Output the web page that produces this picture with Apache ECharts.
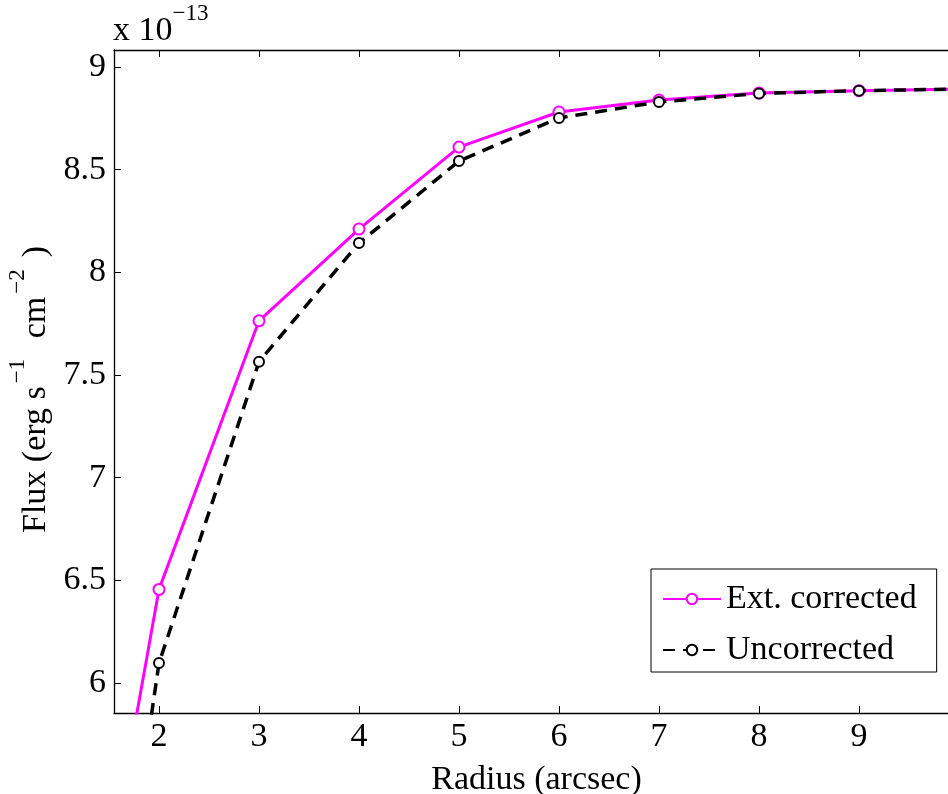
<!DOCTYPE html>
<html>
<head>
<meta charset="utf-8">
<title>Flux vs Radius</title>
<script src="https://cdn.jsdelivr.net/npm/echarts@6/dist/echarts.min.js"></script>
<style>
  html, body { margin: 0; padding: 0; background: #fff; overflow: hidden; }
  #chart { width: 948px; height: 794px; }
</style>
</head>
<body>
<div id="chart"></div>
<script>
// Aperture radius (arcsec) and integrated flux (units of 1e-13 erg s^-1 cm^-2)
const radius      = [1, 2, 3, 4, 5, 6, 7, 8, 9, 10];
const corrected   = [3.73, 6.456, 7.764, 8.211, 8.610, 8.781, 8.839, 8.873, 8.885, 8.893];
const uncorrected = [2.76, 6.097, 7.565, 8.143, 8.542, 8.752, 8.830, 8.871, 8.885, 8.893];

// Tick positions
const xTicks = [2, 3, 4, 5, 6, 7, 8, 9];
const yTicks = [6, 6.5, 7, 7.5, 8, 8.5, 9];

const seriesNames = ['Ext. corrected', 'Uncorrected'];

const FONT = "'Liberation Serif', 'Times New Roman', serif";
const FS = 34;      // main text size
const FS_SUP = 23;  // superscript size

const pairs = (xs, ys) => xs.map((x, i) => [x, ys[i]]);

const chart = echarts.init(document.getElementById('chart'), null, { renderer: 'canvas' });

const axisLineStyle = { color: '#000', width: 1.3 };
const tickStyle = { color: '#000', width: 1 };

chart.setOption({
  animation: false,
  backgroundColor: '#fff',
  textStyle: { fontFamily: FONT, color: '#000' },
  title: {
    text: 'x 10{sup|\u221213}',
    left: 113,
    top: 2,
    padding: 0,
    textStyle: {
      fontFamily: FONT, fontSize: FS, fontWeight: 'normal', color: '#000',
      rich: { sup: { fontFamily: FONT, fontSize: FS_SUP, color: '#000', padding: [0, 0, 35, 0] } }
    }
  },
  grid: { left: 114, top: 50, right: -11, bottom: 81, containLabel: false, outerBoundsMode: 'none' },
  xAxis: [
    {
      type: 'value',
      position: 'bottom',
      min: 1.55,
      max: 10,
      name: 'Radius (arcsec)',
      nameLocation: 'middle',
      nameGap: 50,
      nameTextStyle: { fontFamily: FONT, fontSize: FS, color: '#000' },
      axisLine: { show: true, onZero: false, lineStyle: axisLineStyle },
      axisTick: { show: true, inside: true, length: 7, lineStyle: tickStyle, customValues: xTicks },
      axisLabel: { show: true, margin: 7, fontFamily: FONT, fontSize: FS, color: '#000', customValues: xTicks },
      splitLine: { show: false }
    },
    {
      type: 'value',
      position: 'top',
      min: 1.55,
      max: 10,
      axisLine: { show: true, onZero: false, lineStyle: axisLineStyle },
      axisTick: { show: true, inside: true, length: 7, lineStyle: tickStyle, customValues: xTicks },
      axisLabel: { show: false },
      splitLine: { show: false }
    }
  ],
  yAxis: {
    type: 'value',
    min: 5.854,
    max: 9.083,
    name: 'Flux (erg s{sup|\u22121} cm{sup|\u22122})',
    nameLocation: 'middle',
    nameGap: 47,
    nameTextStyle: {
      fontFamily: FONT, fontSize: FS, color: '#000',
      padding: [0, 16, 0, 0],
      rich: { sup: { fontFamily: FONT, fontSize: FS_SUP, color: '#000', padding: [0, 12, 35, 3] } }
    },
    axisLine: { show: true, onZero: false, lineStyle: axisLineStyle },
    axisTick: { show: true, inside: true, length: 7, lineStyle: tickStyle, customValues: yTicks },
    axisLabel: { show: true, margin: 8, padding: [6, 0, 0, 0], fontFamily: FONT, fontSize: FS, color: '#000', customValues: yTicks },
    splitLine: { show: false }
  },
  legend: {
    orient: 'vertical',
    left: 651,
    top: 569,
    padding: [13, 20, 5, 11],
    itemWidth: 58,
    itemHeight: 13,
    itemGap: 17,
    backgroundColor: '#fff',
    borderColor: '#000',
    borderWidth: 1,
    textStyle: { fontFamily: FONT, fontSize: FS, color: '#000' },
    data: seriesNames
  },
  series: [
    {
      name: seriesNames[0],
      type: 'line',
      data: pairs(radius, corrected),
      color: '#ff00ff',
      symbol: 'emptyCircle',
      symbolSize: 11,
      showAllSymbol: true,
      clip: true,
      lineStyle: { color: '#ff00ff', width: 3 },
      itemStyle: { color: '#ff00ff', borderColor: '#ff00ff', borderWidth: 2.5 },
      z: 2
    },
    {
      name: seriesNames[1],
      type: 'line',
      data: pairs(radius, uncorrected),
      color: '#000',
      symbol: 'emptyCircle',
      symbolSize: 10,
      showAllSymbol: true,
      clip: true,
      lineStyle: { color: '#000', width: 3.5, type: [12, 8] },
      itemStyle: { color: '#000', borderColor: '#000', borderWidth: 3 },
      z: 3
    }
  ]
});
</script>
</body>
</html>
